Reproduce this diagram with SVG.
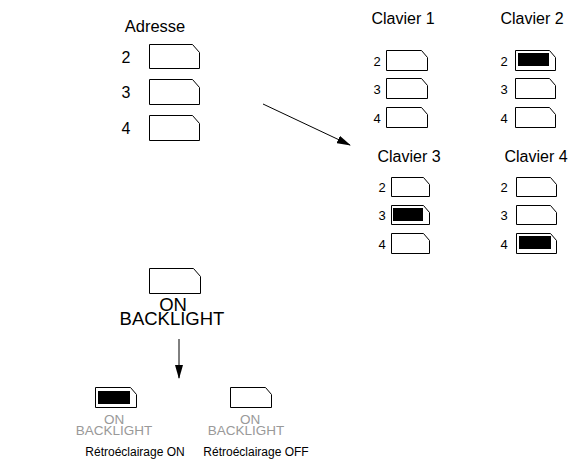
<svg xmlns="http://www.w3.org/2000/svg" width="581" height="464" viewBox="0 0 581 464">
<style>
text{font-family:"Liberation Sans",Arial,sans-serif;fill:#000}
.t{font-size:16.5px}
.c{font-size:16px}
.n{font-size:16px}
.s{font-size:13px}
.b{font-size:18.5px}
.r{font-size:12px}
.g{fill:#999;font-size:13.5px}
.k{fill:#fff;stroke:#000;stroke-width:1}
.f{fill:#000}
.ln{stroke:#000;stroke-width:1;fill:none}
</style>
<defs>
<marker id="ah" markerWidth="14" markerHeight="8" refX="13" refY="4" orient="auto" markerUnits="userSpaceOnUse">
<path d="M0,0 L14,4 L0,8 Z" fill="#000"/>
</marker>
</defs>
<rect width="581" height="464" fill="#fff"/>
<g id="adresse">
<text class="t" x="155" y="32" text-anchor="middle">Adresse</text>
<text class="n" x="126" y="63" text-anchor="middle">2</text>
<text class="n" x="126" y="98" text-anchor="middle">3</text>
<text class="n" x="126" y="134" text-anchor="middle">4</text>
<path class="k" d="M149.5,44.5 H192.5 L199.5,52.5 V68.5 H149.5 Z"/>
<path class="k" d="M149.5,79.5 H192.5 L199.5,87.5 V104.5 H149.5 Z"/>
<path class="k" d="M149.5,115.5 H192.5 L199.5,123.5 V140.5 H149.5 Z"/>
</g>
<g id="clavier1">
<text class="c" x="403" y="24" text-anchor="middle">Clavier 1</text>
<text class="s" x="377" y="66" text-anchor="middle">2</text>
<text class="s" x="377" y="94" text-anchor="middle">3</text>
<text class="s" x="377" y="123" text-anchor="middle">4</text>
<path class="k" d="M386.5,50.5 H421.5 L427.5,57.5 V70.5 H386.5 Z"/>
<path class="k" d="M386.5,78.5 H421.5 L427.5,85.5 V98.5 H386.5 Z"/>
<path class="k" d="M386.5,107.5 H421.5 L427.5,114.5 V127.5 H386.5 Z"/>
</g>
<g id="clavier2">
<text class="c" x="532" y="24" text-anchor="middle">Clavier 2</text>
<text class="s" x="504" y="66" text-anchor="middle">2</text>
<text class="s" x="504" y="94" text-anchor="middle">3</text>
<text class="s" x="504" y="123" text-anchor="middle">4</text>
<path class="k" d="M515.5,50.5 H549.5 L555.5,57.5 V70.5 H515.5 Z"/>
<rect class="f" x="518" y="53" width="31" height="13"/>
<path class="k" d="M515.5,78.5 H549.5 L555.5,85.5 V98.5 H515.5 Z"/>
<path class="k" d="M515.5,107.5 H549.5 L555.5,114.5 V127.5 H515.5 Z"/>
</g>
<g id="clavier3">
<text class="c" x="409" y="162" text-anchor="middle">Clavier 3</text>
<text class="s" x="382" y="192" text-anchor="middle">2</text>
<text class="s" x="382" y="220" text-anchor="middle">3</text>
<text class="s" x="382" y="249" text-anchor="middle">4</text>
<path class="k" d="M391.5,177.5 H423.5 L429.5,184.5 V196.5 H391.5 Z"/>
<path class="k" d="M391.5,205.5 H423.5 L429.5,212.5 V224.5 H391.5 Z"/>
<rect class="f" x="393" y="208" width="30" height="13"/>
<path class="k" d="M391.5,233.5 H423.5 L429.5,240.5 V253.5 H391.5 Z"/>
</g>
<g id="clavier4">
<text class="c" x="536" y="162" text-anchor="middle">Clavier 4</text>
<text class="s" x="504" y="192" text-anchor="middle">2</text>
<text class="s" x="504" y="220" text-anchor="middle">3</text>
<text class="s" x="504" y="249" text-anchor="middle">4</text>
<path class="k" d="M516.5,177.5 H550.5 L556.5,184.5 V196.5 H516.5 Z"/>
<path class="k" d="M516.5,205.5 H550.5 L556.5,212.5 V224.5 H516.5 Z"/>
<path class="k" d="M516.5,233.5 H550.5 L556.5,240.5 V253.5 H516.5 Z"/>
<rect class="f" x="519" y="236" width="32" height="13"/>
</g>
<g id="backlight">
<path class="k" d="M149.5,268.5 H193.5 L200.5,276.5 V293.5 H149.5 Z"/>
<text class="b" x="173" y="311" text-anchor="middle">ON</text>
<text class="b" x="172" y="325" text-anchor="middle">BACKLIGHT</text>
</g>
<g id="retro-on">
<path class="k" d="M95.5,387.5 H130.5 L136.5,394.5 V407.5 H95.5 Z"/>
<rect class="f" x="98" y="391" width="32" height="13"/>
<text class="g" x="114" y="424" text-anchor="middle">ON</text>
<text class="g" x="114" y="435" text-anchor="middle">BACKLIGHT</text>
<text class="r" x="135" y="456" text-anchor="middle">Rétroéclairage ON</text>
</g>
<g id="retro-off">
<path class="k" d="M230.5,387.5 H265.5 L271.5,394.5 V407.5 H230.5 Z"/>
<text class="g" x="250" y="424" text-anchor="middle">ON</text>
<text class="g" x="246" y="435" text-anchor="middle">BACKLIGHT</text>
<text class="r" x="256" y="456" text-anchor="middle">Rétroéclairage OFF</text>
</g>
<g id="connectors">
<line class="ln" x1="263" y1="104" x2="350" y2="145" marker-end="url(#ah)"/>
<line class="ln" x1="179" y1="339" x2="179" y2="378" marker-end="url(#ah)"/>
</g>
</svg>
